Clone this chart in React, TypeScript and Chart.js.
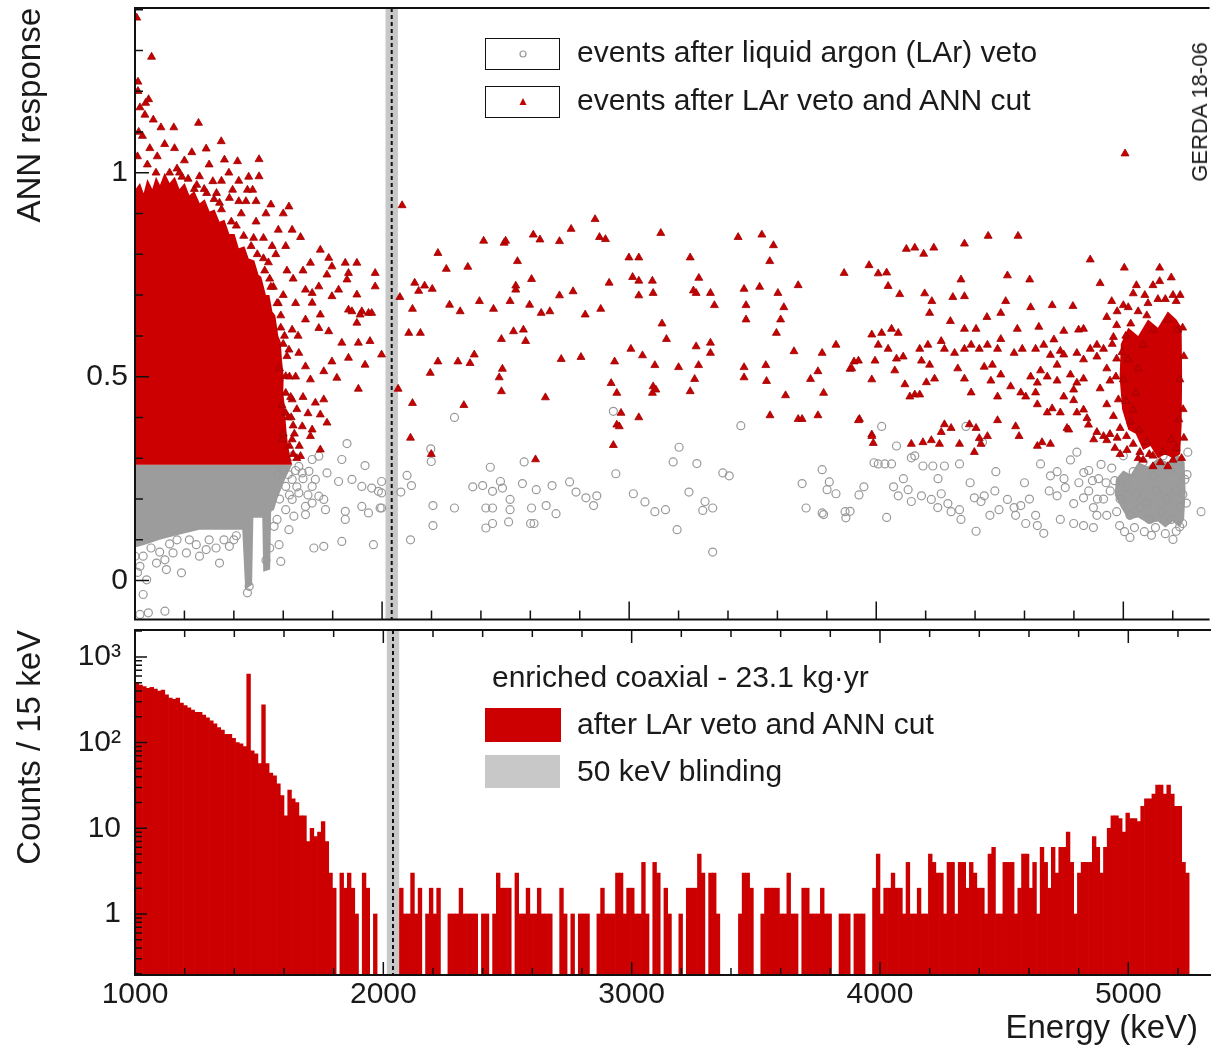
import React, { useEffect, useRef } from 'react';
import { Chart, registerables } from 'chart.js';

Chart.register(...registerables);

const FONT = '"Liberation Sans", Arial, Helvetica, sans-serif';
const INK = '#1a1a1a';
const RED = '#cc0000';
const GREY_MARK = '#999999';
const GREY_DENSE = '#9c9c9c';
const BAND = '#c8c8c8';

// ---------- axes ----------
const E_MIN = 1000;
const E_MAX = 5333;
const ANN_MIN = -0.0956;
const ANN_MAX = 1.404;
const COUNT_MIN = 0.194;
const COUNT_MAX = 2060;

const E_TICKS = [1000, 1200, 1400, 1600, 1800, 2000, 2200, 2400, 2600, 2800, 3000, 3200, 3400, 3600, 3800, 4000, 4200, 4400, 4600, 4800, 5000, 5200];
const E_TICK_LABELS = ['1000', '', '', '', '', '2000', '', '', '', '', '3000', '', '', '', '', '4000', '', '', '', '', '5000', ''];
const ANN_TICKS = [0, 0.1, 0.2, 0.3, 0.4, 0.5, 0.6, 0.7, 0.8, 0.9, 1, 1.1, 1.2, 1.3, 1.4];
const ANN_TICK_LABELS = ['0', '', '', '', '', '0.5', '', '', '', '', '1', '', '', '', ''];
const ANN_MAJOR = [0, 0.5, 1];
const COUNT_TICKS = [0.2, 0.3, 0.4, 0.5, 0.6, 0.7, 0.8, 0.9, 1, 2, 3, 4, 5, 6, 7, 8, 9, 10, 20, 30, 40, 50, 60, 70, 80, 90, 100, 200, 300, 400, 500, 600, 700, 800, 900, 1000, 2000];
const COUNT_TICK_LABELS = ['', '', '', '', '', '', '', '', '1', '', '', '', '', '', '', '', '', '10', '', '', '', '', '', '', '', '', '10²', '', '', '', '', '', '', '', '', '10³', ''];
const COUNT_MAJOR = [1, 10, 100, 1000];

// ---------- blinding window ----------
const BLIND_LOW = 2014;
const BLIND_HIGH = 2064;
const Q_BB = 2039;

// ---------- histogram (15 keV bins from 1000 keV) ----------
const BIN_START = 1000;
const BIN_WIDTH = 15;
const COUNTS = [
  490, 470, 450, 430, 440, 420, 400, 410, 360, 330,
  320, 330, 290, 270, 255, 240, 225, 225, 210, 195,
  180, 165, 150, 140, 125, 125, 112, 100, 97, 90,
  630, 80, 74, 57, 275, 57, 44, 41, 33, 24,
  14, 28, 22, 20, 14, 14, 7, 10, 8, 9,
  12, 7, 3, 2, 0, 3, 2, 3, 2, 1,
  0, 3, 2, 0, 1, 0, 0, 0, 0, 0,
  0, 2, 1, 1, 3, 1, 2, 0, 1, 2,
  1, 2, 0, 0, 1, 1, 1, 2, 1, 1,
  1, 1, 0, 1, 1, 0, 1, 3, 2, 2,
  2, 0, 3, 1, 1, 2, 1, 1, 2, 1,
  1, 1, 0, 0, 2, 1, 0, 1, 0, 1,
  1, 1, 0, 0, 1, 2, 1, 1, 1, 3,
  3, 1, 2, 2, 1, 1, 4, 1, 0, 4,
  3, 0, 2, 1, 0, 0, 1, 0, 2, 2,
  2, 5, 3, 0, 3, 3, 1, 0, 0, 0,
  0, 0, 1, 3, 3, 2, 0, 0, 1, 2,
  2, 2, 2, 1, 1, 3, 1, 1, 0, 2,
  2, 1, 1, 1, 2, 1, 1, 0, 0, 1,
  1, 1, 0, 1, 1, 1, 0, 0, 2, 5,
  1, 2, 2, 3, 2, 2, 1, 4, 1, 1,
  2, 1, 1, 5, 4, 3, 3, 1, 4, 4,
  1, 4, 4, 2, 4, 3, 2, 2, 1, 5,
  6, 1, 1, 4, 4, 4, 1, 2, 5, 5,
  2, 4, 1, 6, 4, 2, 6, 3, 6, 6,
  9, 4, 1, 3, 4, 4, 4, 8, 6, 3,
  6, 10, 14, 14, 13, 9, 15, 13, 13, 12,
  18, 22, 22, 25, 32, 32, 25, 32, 25, 18,
  18, 4, 3,
];

// ---------- scatter: events after LAr veto (grey open circles) ----------
const GREY_LOW_E: [number, number][] = [
  [1033, 0.06], [1020, 0.035], [1047, 0.002], [1033, -0.034], [1087, 0.043], [1127, 0.027], [1121, 0.051], [1154, 0.068],
  [1188, 0.019], [1208, 0.068], [1261, 0.06], [1288, 0.076], [1342, 0.043], [1328, 0.08], [1382, 0.084], [1248, 0.088],
  [1054, -0.079], [1121, -0.075], [1020, -0.083], [1455, -0.03], [1462, -0.014], [1000, 0.06], [1010, 0.02], [1065, 0.08],
  [1100, 0.07], [1140, 0.09], [1170, 0.1], [1220, 0.1], [1300, 0.1], [1360, 0.1], [1400, 0.1], [1410, 0.11],
  [1530, 0.05], [1545, 0.08], [1575, 0.15], [1585, 0.2], [1580, 0.26], [1600, 0.27], [1620, 0.26], [1650, 0.27],
  [1596, 0.297], [1636, 0.305], [1663, 0.28], [1677, 0.264], [1717, 0.297], [1744, 0.305], [1704, 0.268], [1730, 0.248],
  [1777, 0.264], [1837, 0.297], [1858, 0.336], [1931, 0.282], [1636, 0.248], [1610, 0.231], [1663, 0.215], [1717, 0.231],
  [1744, 0.207], [1764, 0.199], [1717, 0.19], [1690, 0.182], [1636, 0.199], [1610, 0.174], [1643, 0.158], [1690, 0.162],
  [1771, 0.174], [1824, 0.243], [1878, 0.248], [1918, 0.231], [1958, 0.227], [1985, 0.219], [1998, 0.243], [1851, 0.17],
  [1851, 0.15], [1918, 0.182], [1945, 0.166], [1992, 0.178], [1837, 0.096], [1764, 0.084], [1724, 0.08], [1623, 0.125],
  [1583, 0.088], [1590, 0.047], [1965, 0.088], [1563, 0.133], [1655, 0.23], [1680, 0.25], [1700, 0.21], [1625, 0.21],
];
const GREY_MID_E: [number, number][] = [
  [2293, 0.4], [2197, 0.323], [2199, 0.292], [2101, 0.258], [2119, 0.233], [2076, 0.217], [1998, 0.215], [1998, 0.178],
  [2206, 0.184], [2293, 0.178], [2206, 0.135], [2115, 0.1], [2438, 0.278], [2367, 0.23], [2407, 0.233], [2479, 0.243],
  [2447, 0.219], [2487, 0.227], [2420, 0.178], [2447, 0.178], [2518, 0.199], [2518, 0.174], [2420, 0.129], [2447, 0.14],
  [2512, 0.144], [2568, 0.238], [2575, 0.291], [2624, 0.223], [2688, 0.233], [2605, 0.178], [2664, 0.184], [2704, 0.164],
  [2601, 0.14], [2615, 0.14], [2759, 0.242], [2785, 0.217], [2825, 0.203], [2869, 0.208], [2856, 0.184], [2936, 0.415],
  [2946, 0.262], [3017, 0.213], [3064, 0.193], [3104, 0.169], [3147, 0.174], [3178, 0.291], [3202, 0.327], [3274, 0.287],
  [3242, 0.217], [3194, 0.125], [3307, 0.194], [3298, 0.172], [3338, 0.178], [3338, 0.07], [3379, 0.264], [3405, 0.257],
  [3452, 0.38], [3700, 0.238], [3716, 0.178], [3781, 0.272], [3810, 0.242], [3801, 0.223], [3837, 0.213], [3787, 0.162],
  [3781, 0.166], [3877, 0.154], [3894, 0.17], [3991, 0.289], [3874, 0.169], [3950, 0.23], [3930, 0.21],
];
const GREY_HIGH_E: [number, number][] = [
  [4022, 0.378], [4082, 0.33], [4142, 0.301], [4008, 0.286], [4035, 0.286], [4062, 0.286], [4156, 0.306], [4189, 0.281],
  [4229, 0.281], [4276, 0.281], [4337, 0.286], [4363, 0.378], [4430, 0.339], [4484, 0.267], [4089, 0.208], [4129, 0.223],
  [4142, 0.194], [4183, 0.208], [4223, 0.199], [4249, 0.179], [4263, 0.213], [4290, 0.189], [4303, 0.169], [4337, 0.174],
  [4343, 0.15], [4397, 0.203], [4424, 0.194], [4437, 0.208], [4497, 0.174], [4531, 0.199], [4558, 0.179], [4585, 0.184],
  [4404, 0.121], [4042, 0.155], [4564, 0.16], [4605, 0.14], [4645, 0.16], [4678, 0.116], [4652, 0.135], [4665, 0.286],
  [4705, 0.257], [4732, 0.267], [4786, 0.296], [4812, 0.315], [4732, 0.208], [4765, 0.228], [4799, 0.189], [4839, 0.203],
  [4879, 0.179], [4893, 0.16], [4745, 0.15], [4799, 0.14], [4839, 0.135], [4879, 0.13], [4933, 0.16], [5027, 0.106],
  [5114, 0.111], [5201, 0.101], [5214, 0.121], [5261, 0.315], [5315, 0.169], [4953, 0.276], [5000, 0.306], [5040, 0.267],
  [5080, 0.291], [5121, 0.257], [5161, 0.306], [5188, 0.272], [5221, 0.292], [4947, 0.22], [4987, 0.2], [5013, 0.23],
  [5053, 0.21], [5094, 0.191], [5134, 0.22], [5174, 0.2], [5214, 0.22], [5228, 0.181], [4973, 0.169], [5027, 0.16],
  [5067, 0.179], [5107, 0.15], [5154, 0.169], [5194, 0.15], [5228, 0.132], [5241, 0.211], [5249, 0.248], [4700, 0.22],
  [4760, 0.25], [4820, 0.24], [4860, 0.22], [4900, 0.25], [4920, 0.2], [4860, 0.27], [4620, 0.2], [4600, 0.24],
  [4480, 0.22], [4460, 0.16], [4380, 0.24], [4250, 0.25], [4110, 0.25], [4070, 0.23], [4910, 0.285], [4930, 0.24],
  [4965, 0.245], [4985, 0.135], [5005, 0.12], [5045, 0.13], [5085, 0.12], [5130, 0.13], [5170, 0.115], [5240, 0.14],
  [5255, 0.19], [5258, 0.26], [4895, 0.2], [4875, 0.245], [4840, 0.265],
];

// ---------- scatter: events after LAr veto and ANN cut (red markers) ----------
const RED_LOW_E: [number, number][] = [
  [1007, 1.38], [1067, 1.284], [1012, 1.223], [1012, 1.2], [1043, 1.171], [1040, 1.142], [1074, 1.13], [1105, 1.111],
  [1157, 1.111], [1257, 1.122], [1288, 1.059], [1349, 1.077], [1362, 1.032], [1415, 1.028], [1502, 1.033], [1502, 0.991],
  [1455, 0.958], [1476, 0.958], [1395, 0.958], [1315, 0.979], [1261, 0.991], [1550, 0.922], [1623, 0.917], [1449, 0.93],
  [1382, 0.938], [1342, 0.926], [1636, 0.86], [1670, 0.842], [1750, 0.811], [1784, 0.791], [1797, 0.77], [1851, 0.779],
  [1898, 0.779], [1864, 0.754], [1972, 0.754], [1972, 0.721], [1898, 0.701], [1858, 0.738], [1710, 0.779], [1744, 0.721],
  [1777, 0.75], [1824, 0.713], [1797, 0.697], [1918, 0.66], [1945, 0.656], [1864, 0.664], [1717, 0.705], [1750, 0.652],
  [1717, 0.681], [1690, 0.713], [1878, 0.66], [1911, 0.652], [1958, 0.656], [1898, 0.632], [1951, 0.587], [1837, 0.583],
  [1784, 0.611], [1744, 0.619], [1797, 0.537], [1864, 0.546], [1931, 0.529], [1998, 0.554], [1904, 0.47], [1817, 0.497],
  [1764, 0.513], [1710, 0.493], [1764, 0.444], [1730, 0.436], [1750, 0.407], [1777, 0.387], [1717, 0.37], [1710, 0.354],
  [1750, 0.321], [1670, 0.305], [1677, 0.378], [1636, 0.444], [1610, 0.501], [1623, 0.566], [1663, 0.558], [1690, 0.525],
  [1636, 0.615], [1690, 0.64], [1596, 0.346], [1636, 0.346], [1610, 0.411], [1904, 0.583], [1590, 0.62], [1600, 0.58],
  [1585, 0.52], [1610, 0.46], [1595, 0.43], [1620, 0.4], [1600, 0.36], [1625, 0.33], [1640, 0.31], [1580, 0.68],
  [1560, 0.72], [1600, 0.7], [1540, 0.78], [1570, 0.8], [1520, 0.84], [1490, 0.88], [1530, 0.9], [1420, 0.98],
  [1460, 0.99], [1380, 1.0], [1300, 1.02], [1230, 1.05], [1200, 1.03], [1160, 1.06], [1120, 1.07], [1090, 1.04],
  [1060, 1.06], [1030, 1.09], [1015, 1.1], [1050, 1.02], [1140, 1.0], [1190, 0.99], [1240, 0.96], [1280, 0.96],
  [1020, 1.16], [1055, 1.18], [1650, 0.5], [1655, 0.42], [1645, 0.36], [1665, 0.33], [1680, 0.45], [1700, 0.41],
  [1660, 0.6], [1650, 0.68], [1615, 0.76], [1580, 0.86], [1555, 0.82], [1610, 0.82], [1640, 0.74], [1680, 0.76],
  [1010, 1.04], [1085, 1.0], [1170, 1.01], [1330, 0.95], [1430, 0.9], [1480, 0.84], [1520, 0.79], [1545, 0.74],
  [1180, 1.0], [1215, 0.985], [1250, 0.97], [1290, 0.95], [1320, 0.935], [1350, 0.91], [1390, 0.88], [1410, 0.87],
  [1440, 0.845], [1470, 0.82], [1495, 0.8], [1525, 0.76], [1550, 0.72], [1575, 0.68], [1590, 0.65], [1605, 0.6],
  [1615, 0.55], [1625, 0.5], [1630, 0.45], [1632, 0.4], [1640, 0.38], [1655, 0.3], [1600, 0.9], [1490, 0.93],
  [1350, 0.98], [1420, 0.93],
];
const RED_MID_E: [number, number][] = [
  [2081, 0.92], [2072, 0.695], [2065, 0.47], [2115, 0.35], [2123, 0.435], [2123, 0.666], [2108, 0.607], [2155, 0.607],
  [2132, 0.73], [2148, 0.71], [2172, 0.723], [2203, 0.715], [2226, 0.803], [2260, 0.764], [2347, 0.769], [2273, 0.676],
  [2316, 0.66], [2226, 0.537], [2195, 0.509], [2307, 0.537], [2356, 0.533], [2373, 0.554], [2331, 0.43], [2199, 0.31],
  [2411, 0.833], [2494, 0.828], [2500, 0.833], [2394, 0.685], [2451, 0.666], [2518, 0.685], [2548, 0.783], [2541, 0.723],
  [2541, 0.713], [2483, 0.592], [2532, 0.611], [2572, 0.615], [2581, 0.587], [2487, 0.519], [2474, 0.498], [2483, 0.464],
  [2605, 0.739], [2597, 0.676], [2612, 0.848], [2639, 0.836], [2644, 0.656], [2679, 0.66], [2621, 0.297], [2661, 0.449],
  [2718, 0.832], [2765, 0.862], [2718, 0.699], [2773, 0.709], [2725, 0.543], [2805, 0.548], [2822, 0.652], [2862, 0.886],
  [2880, 0.842], [2904, 0.837], [2885, 0.666], [2919, 0.73], [2941, 0.537], [2927, 0.484], [2950, 0.46], [2967, 0.411],
  [2950, 0.382], [2960, 0.378], [2936, 0.332], [2999, 0.792], [3039, 0.792], [3014, 0.744], [3039, 0.735], [3039, 0.699],
  [3094, 0.735], [3097, 0.705], [3007, 0.568], [3054, 0.552], [3039, 0.4], [3128, 0.852], [3133, 0.63], [3151, 0.592],
  [3104, 0.528], [3097, 0.476], [3108, 0.468], [3094, 0.46], [3200, 0.523], [3247, 0.792], [3282, 0.742], [3260, 0.711],
  [3271, 0.705], [3271, 0.574], [3281, 0.528], [3265, 0.494], [3247, 0.464], [3329, 0.705], [3345, 0.675], [3329, 0.583],
  [3329, 0.558], [3441, 0.842], [3537, 0.848], [3584, 0.822], [3569, 0.783], [3465, 0.715], [3528, 0.72], [3602, 0.705],
  [3473, 0.675], [3626, 0.67], [3473, 0.64], [3613, 0.64], [3596, 0.607], [3465, 0.523], [3465, 0.498], [3553, 0.528],
  [3556, 0.489], [3570, 0.405], [3667, 0.562], [3684, 0.724], [3633, 0.454], [3684, 0.396], [3700, 0.396], [3734, 0.494],
  [3764, 0.513], [3781, 0.558], [3787, 0.46], [3764, 0.405], [3837, 0.578], [3870, 0.754], [3910, 0.537], [3894, 0.519],
  [3932, 0.396], [3971, 0.773], [3982, 0.603], [3982, 0.493], [3982, 0.358], [3988, 0.337],
];
const RED_HIGH_E: [number, number][] = [
  [5007, 1.047], [4453, 0.845], [4574, 0.845], [4357, 0.826], [4122, 0.813], [4156, 0.816], [4233, 0.816], [4192, 0.801],
  [4866, 0.787], [5004, 0.767], [5147, 0.767], [4008, 0.753], [4042, 0.755], [4343, 0.738], [4531, 0.748], [4621, 0.738],
  [4048, 0.722], [4095, 0.702], [4196, 0.704], [4225, 0.685], [4310, 0.695], [4357, 0.697], [4524, 0.685], [4625, 0.67],
  [4712, 0.675], [4796, 0.673], [4906, 0.729], [4216, 0.656], [4300, 0.636], [4448, 0.646], [4504, 0.656], [4357, 0.617],
  [4404, 0.617], [4571, 0.617], [4658, 0.622], [4759, 0.612], [4839, 0.617], [4022, 0.607], [4062, 0.617], [4089, 0.607],
  [4008, 0.578], [4048, 0.568], [3901, 0.52], [3928, 0.539], [3995, 0.539], [4082, 0.544], [4109, 0.549], [4176, 0.568],
  [4209, 0.578], [4263, 0.587], [4276, 0.568], [4183, 0.539], [4216, 0.529], [4317, 0.558], [4357, 0.568], [4384, 0.578],
  [4417, 0.568], [4450, 0.578], [4491, 0.568], [4504, 0.592], [4558, 0.558], [4591, 0.568], [4645, 0.568], [4678, 0.578],
  [4705, 0.553], [4745, 0.563], [4732, 0.529], [4812, 0.558], [4866, 0.568], [4893, 0.578], [4665, 0.515], [4692, 0.5],
  [4732, 0.49], [4625, 0.5], [4652, 0.485], [4786, 0.505], [4812, 0.485], [4839, 0.495], [4075, 0.515], [4156, 0.456],
  [4136, 0.451], [4176, 0.456], [4116, 0.481], [4203, 0.486], [4236, 0.495], [4330, 0.52], [4357, 0.495], [4384, 0.461],
  [4437, 0.524], [4470, 0.529], [4464, 0.49], [4504, 0.505], [4491, 0.451], [4544, 0.476], [4585, 0.461], [4605, 0.451],
  [4645, 0.461], [4652, 0.432], [4692, 0.412], [4759, 0.451], [4799, 0.442], [4812, 0.412], [4853, 0.398], [3928, 0.393],
  [3982, 0.354], [4142, 0.335], [4189, 0.339], [4223, 0.344], [4263, 0.364], [4276, 0.383], [4303, 0.374], [4256, 0.335],
  [4337, 0.335], [4377, 0.383], [4404, 0.374], [4397, 0.315], [4417, 0.349], [4450, 0.354], [4424, 0.335], [4491, 0.393],
  [4564, 0.378], [4578, 0.354], [4652, 0.33], [4671, 0.339], [4705, 0.335], [4712, 0.422], [4745, 0.412], [4772, 0.374],
  [4893, 0.364], [4920, 0.354], [4933, 0.344], [4946, 0.359], [4966, 0.325], [4987, 0.31], [4953, 0.685], [5000, 0.675],
  [5040, 0.704], [5053, 0.724], [5087, 0.7], [5120, 0.724], [5147, 0.734], [5194, 0.743], [5201, 0.7], [5214, 0.685],
  [4933, 0.646], [4973, 0.626], [4960, 0.597], [4920, 0.568], [4893, 0.549], [4933, 0.52], [4973, 0.544], [4946, 0.49],
  [4906, 0.471], [4933, 0.432], [4960, 0.403], [4987, 0.374], [5013, 0.354], [5040, 0.335], [5067, 0.315], [5080, 0.296],
  [5120, 0.306], [5161, 0.315], [5201, 0.296], [5214, 0.325], [4819, 0.615], [4839, 0.542], [4799, 0.468], [4839, 0.419],
  [4859, 0.382], [4880, 0.346], [4779, 0.37], [4759, 0.554], [4719, 0.591], [5000, 0.493], [4980, 0.444], [5040, 0.419],
  [5020, 0.542], [5080, 0.578], [5121, 0.615], [5181, 0.64], [5221, 0.615], [5229, 0.493], [5225, 0.395], [5193, 0.346],
  [5010, 0.6], [5030, 0.63], [5060, 0.66], [5095, 0.65], [5060, 0.52], [5050, 0.46], [5030, 0.39], [5065, 0.37],
  [5095, 0.34], [5010, 0.44], [4995, 0.56], [5100, 0.68], [5170, 0.69], [5240, 0.62], [5242, 0.42], [5236, 0.3],
  [5150, 0.29], [5105, 0.31], [4970, 0.5], [4955, 0.58], [4975, 0.66], [5020, 0.67], [5140, 0.69], [5230, 0.7],
  [5245, 0.55], [5245, 0.35], [5180, 0.28], [5120, 0.28], [5060, 0.3], [5015, 0.32], [4975, 0.35],
];

// ---------- outlines of the regions where markers overlap into a solid area ----------
const GREY_DENSE_LOW_E: [number, number][] = [
  [1000, 0.284], [1636, 0.284], [1610, 0.252], [1575, 0.199], [1563, 0.174], [1551, 0.169], [1547, 0.027], [1519, 0.022],
  [1515, 0.154], [1479, 0.154], [1474, -0.01], [1446, -0.022], [1434, 0.125], [1261, 0.125], [1181, 0.113], [1100, 0.1],
  [1040, 0.088], [1000, 0.081],
];
const GREY_DENSE_ALPHA: [number, number][] = [
  [4970, 0.25], [5000, 0.27], [5030, 0.26], [5060, 0.29], [5100, 0.28], [5140, 0.3], [5180, 0.29], [5220, 0.31],
  [5248, 0.29], [5252, 0.22], [5246, 0.15], [5228, 0.13], [5200, 0.145], [5170, 0.13], [5140, 0.145], [5100, 0.14],
  [5060, 0.155], [5020, 0.15], [4990, 0.18], [4965, 0.21],
];
const RED_DENSE_LOW_E: [number, number][] = [
  [1000, 0.284], [1000, 0.958], [1020, 0.975], [1035, 0.95], [1050, 0.985], [1070, 0.96], [1085, 0.99], [1101, 0.97],
  [1120, 1.0], [1140, 0.975], [1161, 0.99], [1180, 0.96], [1201, 0.975], [1220, 0.945], [1240, 0.955], [1262, 0.925],
  [1282, 0.935], [1302, 0.905], [1322, 0.91], [1342, 0.88], [1362, 0.885], [1382, 0.85], [1403, 0.85], [1420, 0.815],
  [1443, 0.82], [1460, 0.79], [1483, 0.785], [1500, 0.75], [1511, 0.745], [1530, 0.7], [1544, 0.7], [1556, 0.66],
  [1568, 0.65], [1580, 0.6], [1590, 0.585], [1595, 0.54], [1602, 0.5], [1600, 0.46], [1606, 0.43], [1610, 0.39],
  [1614, 0.36], [1620, 0.33], [1626, 0.31], [1636, 0.284],
];
const RED_DENSE_ALPHA: [number, number][] = [
  [4990, 0.58], [5020, 0.62], [5060, 0.6], [5100, 0.64], [5140, 0.62], [5180, 0.66], [5215, 0.64], [5236, 0.62],
  [5238, 0.5], [5236, 0.38], [5230, 0.31], [5200, 0.3], [5170, 0.31], [5140, 0.3], [5110, 0.33], [5080, 0.32],
  [5050, 0.36], [5020, 0.37], [4995, 0.42], [4985, 0.5],
];

const toXY = (pts: [number, number][]) => pts.map(([x, y]) => ({ x, y }));

function drawPolys(chart: any, polys: [number, number][][], color: string) {
  const { ctx, chartArea, scales } = chart;
  const xs = scales.x;
  const ys = scales.y;
  ctx.save();
  ctx.beginPath();
  ctx.rect(chartArea.left, chartArea.top, chartArea.right - chartArea.left, chartArea.bottom - chartArea.top);
  ctx.clip();
  ctx.fillStyle = color;
  for (const poly of polys) {
    ctx.beginPath();
    poly.forEach(([e, v], i) => {
      const px = xs.getPixelForValue(e);
      const py = ys.getPixelForValue(v);
      if (i === 0) ctx.moveTo(px, py);
      else ctx.lineTo(px, py);
    });
    ctx.closePath();
    ctx.fill();
  }
  ctx.restore();
}

const blindingPlugin = {
  id: 'blinding',
  beforeDatasetsDraw(chart: any) {
    const { ctx, chartArea, scales } = chart;
    const x0 = scales.x.getPixelForValue(BLIND_LOW);
    const x1 = scales.x.getPixelForValue(BLIND_HIGH);
    ctx.save();
    ctx.fillStyle = BAND;
    ctx.fillRect(x0, chartArea.top, x1 - x0, chartArea.bottom - chartArea.top);
    ctx.restore();
  },
  afterDatasetsDraw(chart: any) {
    const { ctx, chartArea, scales } = chart;
    const xq = scales.x.getPixelForValue(Q_BB);
    ctx.save();
    ctx.strokeStyle = '#111';
    ctx.lineWidth = 2;
    ctx.setLineDash([4, 3]);
    ctx.beginPath();
    ctx.moveTo(xq, chartArea.top);
    ctx.lineTo(xq, chartArea.bottom);
    ctx.stroke();
    ctx.restore();
  },
};

function framePlugin(cfg: { xMajor: number; xMinor: number; yMajor: number; yMinor: number; topTicks: boolean; yMajorValues: number[] }) {
  return {
    id: 'frameTicks',
    afterDatasetsDraw(chart: any) {
      const { ctx, chartArea, scales } = chart;
      const { left, right, top, bottom } = chartArea;
      const xs = scales.x;
      const ys = scales.y;
      ctx.save();
      ctx.strokeStyle = '#111';
      ctx.lineWidth = 2;
      ctx.beginPath();
      ctx.moveTo(right + 4, top);
      ctx.lineTo(left, top);
      ctx.lineTo(left, bottom);
      ctx.lineTo(right + 4, bottom);
      ctx.stroke();
      ctx.lineWidth = 1.5;
      ctx.beginPath();
      xs.ticks.forEach((t: any) => {
        const px = xs.getPixelForValue(t.value);
        const len = t.value % 1000 === 0 ? cfg.xMajor : cfg.xMinor;
        ctx.moveTo(px, bottom);
        ctx.lineTo(px, bottom - len);
        if (cfg.topTicks) {
          ctx.moveTo(px, top);
          ctx.lineTo(px, top + len);
        }
      });
      ys.ticks.forEach((t: any) => {
        const py = ys.getPixelForValue(t.value);
        const major = cfg.yMajorValues.some((m) => Math.abs(m - t.value) < 1e-9);
        const len = major ? cfg.yMajor : cfg.yMinor;
        ctx.moveTo(left, py);
        ctx.lineTo(left + len, py);
      });
      ctx.stroke();
      ctx.restore();
    },
  };
}

const densityPlugin = {
  id: 'density',
  beforeDatasetsDraw(chart: any) {
    drawPolys(chart, [GREY_DENSE_LOW_E, GREY_DENSE_ALPHA], GREY_DENSE);
  },
  afterDatasetDraw(chart: any, args: any) {
    // grey dataset (index 1) is drawn first; red regions go on top of it
    if (args.index === 1) drawPolys(chart, [RED_DENSE_LOW_E, RED_DENSE_ALPHA], RED);
  },
};

const noVerticalPadding = (s: any) => {
  s.width = 135;
  s.paddingTop = 0;
  s.paddingBottom = 0;
};

function topConfig(): any {
  return {
    type: 'scatter',
    data: {
      datasets: [
        {
          label: 'events after LAr veto and ANN cut',
          data: toXY([...RED_LOW_E, ...RED_MID_E, ...RED_HIGH_E]),
          pointStyle: 'triangle',
          pointRadius: 4.6,
          backgroundColor: '#c40000',
          borderColor: '#a00000',
          borderWidth: 0.8,
        },
        {
          label: 'events after liquid argon (LAr) veto',
          data: toXY([...GREY_LOW_E, ...GREY_MID_E, ...GREY_HIGH_E]),
          pointStyle: 'circle',
          pointRadius: 4,
          backgroundColor: 'rgba(0,0,0,0)',
          borderColor: GREY_MARK,
          borderWidth: 1.2,
        },
      ],
    },
    options: {
      animation: false,
      responsive: false,
      maintainAspectRatio: false,
      devicePixelRatio: 1,
      layout: { padding: { top: 8, right: 0, bottom: 0, left: 0 } },
      plugins: { legend: { display: false }, tooltip: { enabled: false } },
      scales: {
        x: {
          type: 'linear',
          min: E_MIN,
          max: E_MAX,
          afterBuildTicks: (s: any) => { s.ticks = E_TICKS.map((v) => ({ value: v })); },
          ticks: { display: false },
          grid: { display: false, drawTicks: false },
          border: { display: false },
          afterFit: (s: any) => { s.height = 5; s.paddingLeft = 0; s.paddingRight = 0; },
        },
        y: {
          type: 'linear',
          min: ANN_MIN,
          max: ANN_MAX,
          afterBuildTicks: (s: any) => { s.ticks = ANN_TICKS.map((v) => ({ value: v })); },
          ticks: {
            autoSkip: false,
            color: INK,
            padding: 7,
            font: { family: FONT, size: 30 },
            callback: (_v: any, i: number) => ANN_TICK_LABELS[i],
          },
          grid: { display: false, drawTicks: false },
          border: { display: false },
          title: {
            display: true,
            text: 'ANN response',
            align: 'end',
            color: INK,
            font: { family: FONT, size: 33 },
            padding: { top: 11, bottom: 0 },
          },
          afterFit: noVerticalPadding,
        },
      },
    },
    plugins: [
      blindingPlugin,
      densityPlugin,
      framePlugin({ xMajor: 18, xMinor: 9, yMajor: 14, yMinor: 8, topTicks: false, yMajorValues: ANN_MAJOR }),
    ],
  };
}

function bottomConfig(): any {
  return {
    type: 'bar',
    data: {
      datasets: [
        {
          label: 'after LAr veto and ANN cut',
          data: COUNTS.map((c, i) => ({ x: BIN_START + (i + 0.5) * BIN_WIDTH, y: c > 0 ? c : null })),
          backgroundColor: RED,
          borderWidth: 0,
          base: COUNT_MIN,
          barPercentage: 1,
          categoryPercentage: 1,
        },
      ],
    },
    options: {
      animation: false,
      responsive: false,
      maintainAspectRatio: false,
      devicePixelRatio: 1,
      layout: { padding: { top: 5, right: 0, bottom: 0, left: 0 } },
      plugins: { legend: { display: false }, tooltip: { enabled: false } },
      scales: {
        x: {
          type: 'linear',
          offset: false,
          min: E_MIN,
          max: E_MAX,
          afterBuildTicks: (s: any) => { s.ticks = E_TICKS.map((v) => ({ value: v })); },
          ticks: {
            autoSkip: false,
            maxRotation: 0,
            minRotation: 0,
            color: INK,
            padding: 2,
            font: { family: FONT, size: 30 },
            callback: (_v: any, i: number) => E_TICK_LABELS[i],
          },
          grid: { display: false, drawTicks: false, offset: false },
          border: { display: false },
          afterFit: (s: any) => { s.height = 71; s.paddingLeft = 0; s.paddingRight = 0; },
        },
        y: {
          type: 'logarithmic',
          min: COUNT_MIN,
          max: COUNT_MAX,
          afterBuildTicks: (s: any) => { s.ticks = COUNT_TICKS.map((v) => ({ value: v })); },
          ticks: {
            autoSkip: false,
            color: INK,
            padding: 14,
            font: { family: FONT, size: 30 },
            callback: (_v: any, i: number) => COUNT_TICK_LABELS[i],
          },
          grid: { display: false, drawTicks: false },
          border: { display: false },
          title: {
            display: true,
            text: 'Counts / 15 keV',
            align: 'end',
            color: INK,
            font: { family: FONT, size: 33 },
            padding: { top: 11, bottom: 0 },
          },
          afterFit: noVerticalPadding,
        },
      },
    },
    plugins: [
      blindingPlugin,
      framePlugin({ xMajor: 13, xMinor: 7, yMajor: 12, yMinor: 7, topTicks: true, yMajorValues: COUNT_MAJOR }),
    ],
  };
}

const textStyle: React.CSSProperties = {
  position: 'absolute',
  fontFamily: FONT,
  color: INK,
  whiteSpace: 'nowrap',
};

export default function App() {
  const topRef = useRef<HTMLCanvasElement>(null);
  const botRef = useRef<HTMLCanvasElement>(null);

  useEffect(() => {
    const top = new Chart(topRef.current as HTMLCanvasElement, topConfig());
    const bot = new Chart(botRef.current as HTMLCanvasElement, bottomConfig());
    return () => {
      top.destroy();
      bot.destroy();
    };
  }, []);

  const legendBox: React.CSSProperties = {
    position: 'absolute',
    left: 485,
    width: 73,
    height: 30,
    border: '1.5px solid #111',
    background: '#fff',
    boxSizing: 'content-box',
  };

  return (
    <div style={{ position: 'absolute', left: 0, top: 0, width: 1211, height: 1046, overflow: 'hidden', background: '#fff' }}>
      <canvas ref={topRef} width={1211} height={625} style={{ position: 'absolute', left: 0, top: 0 }} />
      <canvas ref={botRef} width={1211} height={421} style={{ position: 'absolute', left: 0, top: 625 }} />

      {/* top legend */}
      <div style={{ ...legendBox, top: 38 }}>
        <svg width={73} height={30} style={{ display: 'block' }}>
          <circle cx={37} cy={15} r={3} fill="none" stroke={GREY_MARK} strokeWidth={1.2} />
        </svg>
      </div>
      <div style={{ ...legendBox, top: 86 }}>
        <svg width={73} height={30} style={{ display: 'block' }}>
          <polygon points="37,11 40.5,18 33.5,18" fill="#c40000" />
        </svg>
      </div>
      <div style={{ ...textStyle, left: 577, top: 37, fontSize: 30, lineHeight: '30px' }}>events after liquid argon (LAr) veto</div>
      <div style={{ ...textStyle, left: 577, top: 85, fontSize: 30, lineHeight: '30px' }}>events after LAr veto and ANN cut</div>

      {/* watermark */}
      <div
        style={{
          ...textStyle,
          left: 1200,
          top: 112,
          fontSize: 22,
          lineHeight: '22px',
          transform: 'translate(-50%, -50%) rotate(-90deg)',
        }}
      >
        GERDA 18-06
      </div>

      {/* bottom legend */}
      <div style={{ ...textStyle, left: 492, top: 662, fontSize: 30, lineHeight: '30px' }}>enriched coaxial - 23.1 kg·yr</div>
      <div style={{ position: 'absolute', left: 485, top: 708, width: 76, height: 34, background: RED }} />
      <div style={{ position: 'absolute', left: 485, top: 755, width: 75, height: 33, background: BAND }} />
      <div style={{ ...textStyle, left: 577, top: 709, fontSize: 30, lineHeight: '30px' }}>after LAr veto and ANN cut</div>
      <div style={{ ...textStyle, left: 577, top: 756, fontSize: 30, lineHeight: '30px' }}>50 keV blinding</div>

      {/* x-axis title */}
      <div style={{ ...textStyle, right: 13, top: 1010, fontSize: 33, lineHeight: '33px' }}>Energy (keV)</div>
    </div>
  );
}
